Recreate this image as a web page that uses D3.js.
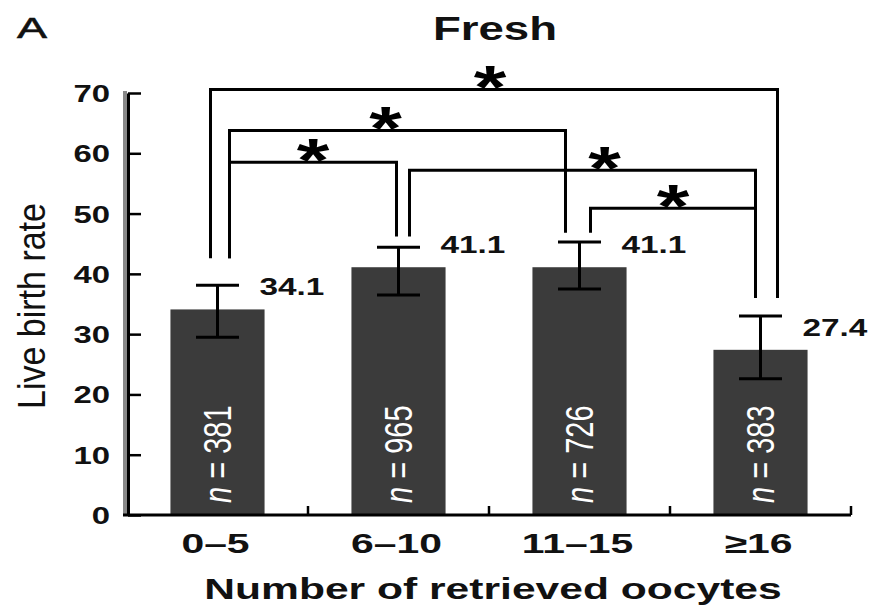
<!DOCTYPE html>
<html>
<head>
<meta charset="utf-8">
<script src="https://cdn.jsdelivr.net/npm/d3@7"></script>
<style>
  body { margin: 0; background: #fff; }
  svg { font-family: 'Liberation Sans', Arial, sans-serif; }
</style>
</head>
<body>
<div id="chart"></div>
<script>
// values
const groups = ['0–5', '6–10', '11–15', '≥16']
const birthRate = [34.1, 41.1, 41.1, 27.4]
const errHigh = [38.1, 44.4, 45.3, 33.0]
const errLow = [29.5, 36.5, 37.5, 22.6]
const nCounts = [381, 965, 726, 383]
const yTicks = [0, 10, 20, 30, 40, 50, 60, 70]
// bottom end of the bracket legs over each bar (in rate units)
const legEnds = [42.6, 46.2, 46.8, 36.0]
// significance brackets: bars a and b, height of the bar line
const brackets = [
    { a: 0, b: 3, aLeg: 0, bLeg: 1, level: 70.6, starDx: -4 },
    { a: 0, b: 2, aLeg: 1, bLeg: 0, level: 63.8, starDx: -12 },
    { a: 0, b: 1, aLeg: 1, bLeg: 0, level: 58.5, starDx: 0 },
    { a: 1, b: 3, aLeg: 1, bLeg: 0, level: 57.2, starDx: 22 },
    { a: 2, b: 3, aLeg: 1, bLeg: 0, level: 50.9, starDx: 0 }
]

const chartW = 869
const chartH = 608
const plotLeft = 127
const plotRight = 851
const plotBottom = 515
const plotTop = 93

// leg offsets from bar centre [left leg, right leg]
const legDx = [[-7, 12], [-2, 11], [-14, 11], [-5, 17]]

const svg = d3.select('#chart').append('svg')
    .attr('width', chartW)
    .attr('height', chartH)

const xScale = d3.scaleBand()
    .domain(groups)
    .range([plotLeft, plotRight])
    .paddingInner(0.48)
    .paddingOuter(0.24)

const yScale = d3.scaleLinear()
    .domain([0, 70])
    .range([plotBottom, plotTop])

const cx = (i) => xScale(groups[i]) + xScale.bandwidth() / 2

// bars
svg.append('g')
    .selectAll('rect')
    .data(birthRate)
    .enter()
    .append('rect')
    .attr('x', (d, i) => xScale(groups[i]))
    .attr('y', (d) => yScale(d))
    .attr('width', xScale.bandwidth())
    .attr('height', (d) => yScale(0) - yScale(d))
    .attr('fill', '#3b3b3b')

// error bars
const err = svg.append('g').attr('stroke', '#000').attr('stroke-width', 3)
birthRate.forEach((d, i) => {
    const c = cx(i)
    err.append('line')
        .attr('x1', c).attr('x2', c)
        .attr('y1', yScale(errHigh[i])).attr('y2', yScale(errLow[i]))
    err.append('line')
        .attr('x1', c - 21.5).attr('x2', c + 21.5)
        .attr('y1', yScale(errHigh[i])).attr('y2', yScale(errHigh[i]))
    err.append('line')
        .attr('x1', c - 21.5).attr('x2', c + 21.5)
        .attr('y1', yScale(errLow[i])).attr('y2', yScale(errLow[i]))
})

// value labels
svg.append('g')
    .selectAll('text')
    .data(birthRate)
    .enter()
    .append('text')
    .attr('transform', (d, i) => `translate(${cx(i) + 42}, ${yScale(d) - 14}) scale(1.45,1)`)
    .attr('font-size', 23)
    .attr('font-weight', 'bold')
    .attr('fill', '#111')
    .text((d) => d.toFixed(1))

// n labels inside bars
const nText = svg.append('g')
    .selectAll('text')
    .data(nCounts)
    .enter()
    .append('text')
    .attr('transform', (d, i) => `translate(${cx(i) + 13}, ${yScale(0) - 12}) rotate(-90) scale(1,1.35)`)
    .attr('font-size', 29)
    .attr('fill', '#fff')
nText.append('tspan').attr('font-style', 'italic').text('n')
nText.append('tspan').text((d) => ` = ${d}`)

// brackets
const br = svg.append('g')
    .attr('fill', 'none')
    .attr('stroke', '#000')
    .attr('stroke-width', 3)
brackets.forEach(b => {
    const xa = cx(b.a) + legDx[b.a][b.aLeg]
    const xb = cx(b.b) + legDx[b.b][b.bLeg]
    const yl = yScale(b.level)
    br.append('path')
        .attr('d', `M${xa},${yScale(legEnds[b.a])}V${yl}H${xb}V${yScale(legEnds[b.b])}`)
    svg.append('text')
        .attr('transform', `translate(${(xa + xb) / 2 + b.starDx}, ${yl + 19}) scale(1.35,1)`)
        .attr('text-anchor', 'middle')
        .attr('font-size', 62)
        .attr('font-weight', 'bold')
        .text('*')
})

// y axis
svg.append('line')
    .attr('x1', plotLeft - 2).attr('x2', plotLeft - 2)
    .attr('y1', yScale(70) - 2).attr('y2', yScale(0))
    .attr('stroke', '#888')
    .attr('stroke-width', 4)

const yAxis = d3.axisLeft(yScale)
    .tickValues(yTicks)
    .tickSize(-13)
    .tickSizeOuter(0)

const yG = svg.append('g')
    .attr('transform', `translate(${plotLeft + 1}, 0)`)
    .call(yAxis)
yG.select('.domain').attr('stroke', '#000').attr('stroke-width', 3)
yG.selectAll('.tick line').attr('stroke', '#000').attr('stroke-width', 2.5)
yG.selectAll('.tick text')
    .attr('x', null)
    .attr('dy', null)
    .attr('transform', 'translate(-18, 8.5) scale(1.4,1)')
    .attr('font-size', 23.5)
    .attr('font-weight', 'bold')
    .attr('fill', '#111')
    .attr('font-family', null)

// x axis
const xAxis = d3.axisBottom(xScale).tickSize(0).tickSizeOuter(0)
const xG = svg.append('g')
    .attr('transform', `translate(0, ${plotBottom})`)
    .call(xAxis)
xG.select('.domain').attr('stroke', '#000').attr('stroke-width', 3)
    .attr('d', `M${plotLeft - 4},0H${plotRight}`)
xG.selectAll('.tick text')
    .attr('y', null)
    .attr('dy', null)
    .attr('transform', 'translate(-2, 38) scale(1.46,1)')
    .attr('font-size', 28)
    .attr('font-weight', 'bold')
    .attr('fill', '#111')
    .attr('font-family', null)

// small ticks between categories
const boundaries = groups.map(g => xScale(g) + xScale.bandwidth() + xScale.step() * xScale.paddingInner() / 2)
svg.append('g')
    .selectAll('line')
    .data(boundaries)
    .enter()
    .append('line')
    .attr('x1', d => d).attr('x2', d => d)
    .attr('y1', plotBottom).attr('y2', plotBottom - 9)
    .attr('stroke', '#000')
    .attr('stroke-width', 2.5)

// titles
svg.append('text')
    .attr('transform', 'translate(17, 38) scale(1.5,1)')
    .attr('font-size', 30)
    .attr('fill', '#111')
    .attr('stroke', '#111')
    .attr('stroke-width', 0.6)
    .text('A')

svg.append('text')
    .attr('transform', 'translate(495, 40) scale(1.34,1)')
    .attr('text-anchor', 'middle')
    .attr('font-size', 34)
    .attr('font-weight', 'bold')
    .attr('fill', '#111')
    .text('Fresh')

svg.append('text')
    .attr('transform', 'translate(45, 306) rotate(-90) scale(1,1.14)')
    .attr('text-anchor', 'middle')
    .attr('font-size', 34)
    .attr('fill', '#111')
    .text('Live birth rate')

svg.append('text')
    .attr('transform', 'translate(493, 599) scale(1.42,1)')
    .attr('text-anchor', 'middle')
    .attr('font-size', 30)
    .attr('font-weight', 'bold')
    .attr('fill', '#111')
    .text('Number of retrieved oocytes')
</script>
</body>
</html>
